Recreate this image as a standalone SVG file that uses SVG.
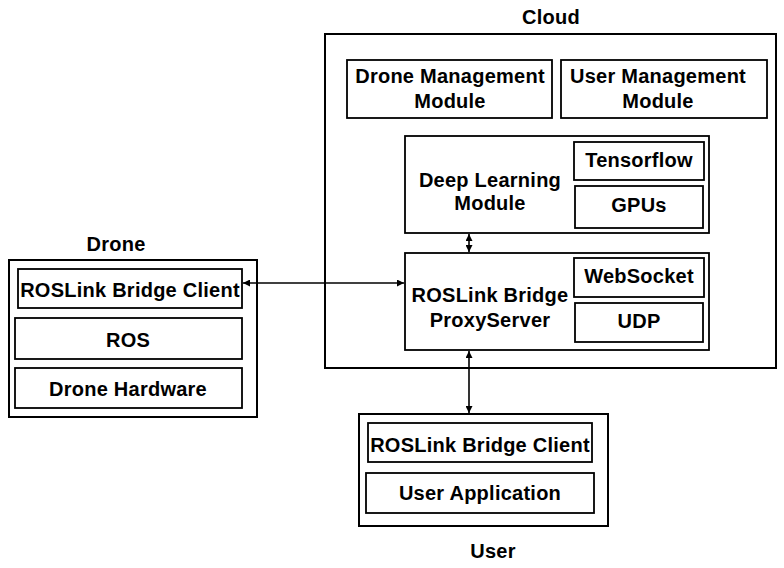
<svg xmlns="http://www.w3.org/2000/svg" width="784" height="568" viewBox="0 0 784 568">
<defs>
<style>
text{font-family:"Liberation Sans",Arial,Helvetica,sans-serif;font-weight:bold;font-size:20px;letter-spacing:0.25px;fill:#000;text-anchor:middle}
.box{fill:#fff;stroke:#000;stroke-width:2}
.in{fill:#fff;stroke:#000;stroke-width:1.8}
.conn{fill:none;stroke:#000;stroke-width:1.6}
</style>
<marker id="ah" viewBox="0 0 10 10" refX="10" refY="5" markerWidth="8" markerHeight="7" markerUnits="userSpaceOnUse" orient="auto-start-reverse">
<path d="M0,0 L10,5 L0,10 z" fill="#000"/>
</marker>
</defs>
<rect width="784" height="568" fill="#fff"/>

<g id="drone">
<text x="116" y="251">Drone</text>
<rect class="box" x="9" y="260" width="248" height="157"/>
<g id="drone-client"><rect class="in" x="18" y="269" width="224" height="39"/><text x="130" y="297">ROSLink Bridge Client</text></g>
<g id="ros"><rect class="in" x="15" y="318" width="227" height="41"/><text x="128" y="347">ROS</text></g>
<g id="drone-hw"><rect class="in" x="15" y="368" width="227" height="40"/><text x="128" y="396">Drone Hardware</text></g>
</g>

<g id="cloud">
<text x="551" y="24">Cloud</text>
<rect class="box" x="325" y="34" width="451" height="334"/>
<g id="drone-mgmt"><rect class="in" x="347" y="60" width="205" height="58"/><text x="450" y="83">Drone Management</text><text x="450" y="108">Module</text></g>
<g id="user-mgmt"><rect class="in" x="561" y="60" width="206" height="58"/><text x="658" y="83">User Management</text><text x="658" y="108">Module</text></g>
<g id="deep-learning"><rect class="in" x="405" y="136" width="304" height="97"/><text x="490" y="187">Deep Learning</text><text x="490" y="210">Module</text>
<rect class="in" x="574" y="142" width="130" height="38"/><text x="639" y="167">Tensorflow</text>
<rect class="in" x="575" y="186" width="128" height="42"/><text x="639" y="212">GPUs</text></g>
<g id="proxy"><rect class="in" x="405" y="253" width="304" height="97"/><text x="490" y="302">ROSLink Bridge</text><text x="490" y="327">ProxyServer</text>
<rect class="in" x="574" y="258" width="130" height="39"/><text x="639" y="283">WebSocket</text>
<rect class="in" x="575" y="303" width="128" height="39"/><text x="639" y="328">UDP</text></g>
</g>

<g id="user">
<rect class="box" x="359" y="414" width="249" height="112"/>
<g id="user-client"><rect class="in" x="368" y="423" width="224" height="39"/><text x="480" y="452">ROSLink Bridge Client</text></g>
<g id="user-app"><rect class="in" x="366" y="473" width="228" height="40"/><text x="480" y="500">User Application</text></g>
<text x="493" y="558">User</text>
</g>

<g id="connectors">
<line class="conn" x1="243" y1="283" x2="404" y2="283" marker-start="url(#ah)" marker-end="url(#ah)"/>
<line class="conn" x1="469" y1="234" x2="469" y2="252" marker-start="url(#ah)" marker-end="url(#ah)"/>
<line class="conn" x1="469" y1="351" x2="469" y2="413" marker-start="url(#ah)" marker-end="url(#ah)"/>
</g>
</svg>
